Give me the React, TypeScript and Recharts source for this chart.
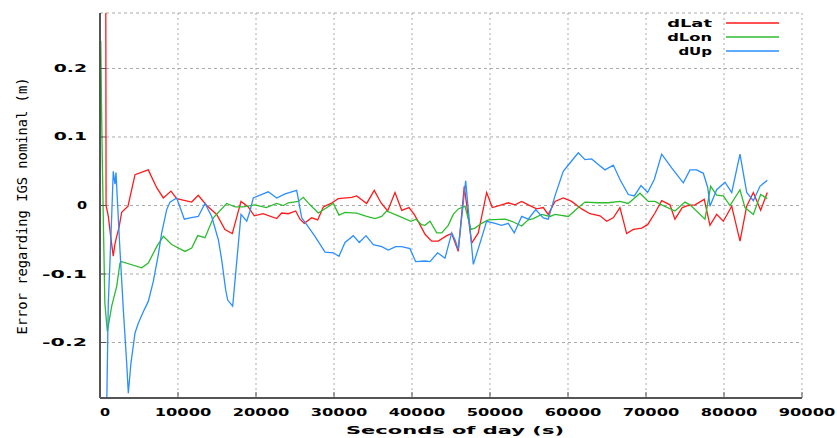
import { LineChart, Line, XAxis, YAxis, CartesianGrid, Legend } from "recharts";

// [seconds of day, error in m]
const dLat: [number, number][] = [
  [650, 1.0], [780, 0.0], [1070, -0.016], [1370, -0.045], [1700, -0.074], [1900, -0.057],
  [2140, -0.045], [2440, -0.032], [2780, -0.01], [3590, -0.001], [4490, 0.045], [6190, 0.052],
  [7270, 0.026], [8120, 0.011], [9100, 0.021], [9830, 0.01], [11750, 0.005], [12600, 0.015],
  [13680, 0.0], [14960, -0.013], [16020, -0.035], [16960, -0.041], [18080, 0.006], [19010, -0.002],
  [19780, -0.015], [20900, -0.012], [22650, -0.019], [23290, -0.011], [24140, -0.012], [25090, -0.008],
  [25640, -0.02], [26190, -0.026], [27140, -0.018], [27910, -0.021], [28630, -0.002], [29610, 0.003],
  [30550, 0.01], [32270, 0.012], [32910, 0.014], [34190, 0.003], [35160, 0.022], [36020, 0.004],
  [36880, -0.008], [37820, 0.019], [38680, -0.007], [39610, -0.003], [40290, -0.013], [41020, -0.028],
  [41670, -0.042], [42520, -0.052], [43370, -0.052], [44450, -0.044], [45090, -0.041], [45930, -0.067],
  [46700, 0.028], [47650, -0.055], [48500, -0.04], [49570, 0.019], [50290, -0.003], [51500, 0.001],
  [52340, 0.004], [53200, 0.001], [54060, 0.006], [54910, 0.001], [55980, -0.005], [56830, -0.003],
  [57470, -0.013], [58330, 0.006], [59390, 0.011], [60470, 0.006], [61750, -0.005], [62820, -0.012],
  [64100, -0.015], [64960, -0.023], [65810, -0.018], [66660, -0.003], [67520, -0.041], [68370, -0.035],
  [69450, -0.033], [70210, -0.028], [71150, -0.011], [72010, 0.007], [73070, 0.001], [73710, -0.02],
  [74650, -0.003], [75420, 0.0], [76280, 0.001], [77470, 0.009], [78200, -0.029], [79060, -0.013],
  [79910, -0.023], [80990, -0.001], [82050, -0.052], [82910, -0.001], [83760, 0.019], [84700, -0.007],
  [85550, 0.019],
];

const dLon: [number, number][] = [
  [100, 0.24], [200, 0.14], [300, 0.063], [450, -0.035], [620, -0.142], [940, -0.184],
  [1500, -0.147], [2140, -0.118], [2560, -0.084], [2780, -0.082], [5350, -0.091], [6190, -0.084],
  [7270, -0.06], [8120, -0.045], [9190, -0.057], [10900, -0.067], [11760, -0.062], [12530, -0.044],
  [13460, -0.047], [14530, -0.018], [16240, 0.003], [17310, -0.002], [18370, -0.002], [19870, 0.001],
  [21300, -0.003], [22650, 0.003], [23500, 0.0], [24140, 0.004], [25420, 0.006], [26060, 0.012],
  [26920, 0.001], [27990, -0.011], [29910, 0.003], [30640, -0.014], [31410, -0.01], [32910, -0.011],
  [34190, -0.016], [35260, -0.019], [36110, -0.016], [36750, -0.008], [38240, -0.015], [39870, -0.023],
  [40510, -0.02], [41240, -0.028], [41670, -0.029], [42310, -0.023], [43170, -0.04], [43810, -0.04],
  [44650, -0.029], [45290, -0.013], [45930, -0.005], [46790, -0.001], [47560, -0.035], [48080, -0.033],
  [48930, -0.026], [49780, -0.021], [51920, -0.02], [52780, -0.023], [54060, -0.03], [54910, -0.021],
  [55550, -0.019], [56630, -0.013], [57690, -0.016], [58330, -0.013], [60040, -0.016], [61320, -0.003],
  [62180, 0.005], [63880, 0.004], [65160, 0.004], [66660, 0.006], [67730, 0.003], [69230, 0.018],
  [70290, 0.006], [71150, 0.006], [72010, 0.001], [73710, -0.008], [74990, 0.005], [75640, 0.001],
  [77560, -0.02], [78290, 0.028], [79060, 0.015], [79910, 0.014], [80770, 0.0], [82050, 0.023],
  [82690, -0.003], [83760, -0.013], [84700, 0.016], [85550, 0.01],
];

const dUp: [number, number][] = [
  [720, -0.4], [1060, -0.143], [1280, -0.082], [1500, -0.015], [1700, 0.05], [1920, 0.031],
  [2050, 0.048], [2270, -0.001], [2560, -0.065], [2990, -0.152], [3420, -0.23], [3630, -0.274],
  [3970, -0.23], [4490, -0.186], [4910, -0.172], [5550, -0.155], [6190, -0.14], [6830, -0.111],
  [7470, -0.072], [7910, -0.04], [8550, -0.006], [8970, 0.005], [9830, 0.011], [10810, -0.02],
  [11540, -0.018], [12600, -0.016], [13460, 0.003], [14320, -0.016], [15170, -0.05], [15600, -0.079],
  [16110, -0.123], [16370, -0.138], [17010, -0.147], [17530, -0.082], [18080, -0.013], [18810, -0.023],
  [19230, -0.008], [19650, 0.011], [20290, 0.014], [21150, 0.018], [21580, 0.02], [22650, 0.011],
  [23720, 0.017], [24580, 0.02], [25220, 0.022], [25860, -0.018], [26500, -0.028], [27560, -0.045],
  [28850, -0.068], [29910, -0.069], [30640, -0.074], [31410, -0.054], [32470, -0.044], [33240, -0.054],
  [34100, -0.044], [35040, -0.057], [36110, -0.06], [36960, -0.065], [37910, -0.06], [38680, -0.06],
  [39740, -0.063], [40470, -0.082], [41670, -0.081], [42310, -0.082], [43290, -0.069], [44230, -0.077],
  [45090, -0.04], [45510, -0.05], [45930, -0.064], [46880, 0.036], [47860, -0.086], [48720, -0.055],
  [49570, -0.023], [50640, -0.026], [51500, -0.029], [52340, -0.026], [53110, -0.04], [54060, -0.016],
  [54910, -0.02], [55860, -0.006], [56830, -0.018], [57470, -0.02], [58330, 0.014], [59390, 0.05],
  [60250, 0.062], [61320, 0.077], [62180, 0.067], [63030, 0.068], [63880, 0.06], [64740, 0.052],
  [65810, 0.059], [66660, 0.038], [67730, 0.016], [68500, 0.014], [69360, 0.029], [70210, 0.019],
  [71060, 0.038], [72010, 0.075], [73290, 0.055], [74780, 0.033], [75640, 0.052], [76490, 0.052],
  [77350, 0.047], [77920, 0.026], [78200, -0.001], [79060, 0.023], [80130, 0.034], [80990, 0.019],
  [82050, 0.075], [82910, 0.019], [83760, 0.007], [84610, 0.028], [85550, 0.037],
];

const xTicks = [0, 10000, 20000, 30000, 40000, 50000, 60000, 70000, 80000, 90000];
const yTicks = [-0.2, -0.1, 0, 0.1, 0.2];
const xDomain: [number, number] = [0, 90000];
const yDomain: [number, number] = [-0.281, 0.281];

const toRows = (pts: [number, number][]) => pts.map(([t, v]) => ({ t, v }));

const FONT = "'DejaVu Sans', sans-serif";
const FRAME = "#555";

// gnuplot's bitmap font is very wide, so stretch the glyphs
const wideLen = (s: string) => s.length * 11.6 - 1.5;

function WideText({ x, y, anchor, text }: { x: number; y: number; anchor: string; text: string }) {
  return (
    <text
      x={x}
      y={y}
      textAnchor={anchor}
      dominantBaseline="central"
      fontFamily={FONT}
      fontWeight="bold"
      fontSize={11}
      fill="#000"
      textLength={wideLen(text)}
      lengthAdjust="spacingAndGlyphs"
    >
      {text}
    </text>
  );
}

const fmtY = (v: number) => (v === 0 ? "0" : v.toFixed(1));

const XTick = (p: any) => <WideText x={p.x + 5} y={p.y} anchor="middle" text={String(p.payload.value)} />;
const YTick = (p: any) => <WideText x={p.x} y={p.y} anchor="end" text={fmtY(p.payload.value)} />;

const XLabel = (p: any) => {
  const vb = p.viewBox;
  return (
    <text
      x={vb.x + vb.width / 2 + 4}
      y={430}
      textAnchor="middle"
      dominantBaseline="central"
      fontFamily={FONT}
      fontWeight="bold"
      fontSize={11}
      textLength={218}
      lengthAdjust="spacingAndGlyphs"
    >
      Seconds of day (s)
    </text>
  );
};

const YLabel = () => (
  <text
    x={0}
    y={0}
    transform="translate(27 206) rotate(-90)"
    textAnchor="middle"
    fontFamily="'DejaVu Sans Mono', monospace"
    fontSize={14}
    fill="#000"
    textLength={257}
    lengthAdjust="spacingAndGlyphs"
  >
    Error regarding IGS nominal (m)
  </text>
);

const LegendBox = (props: any) => {
  const items = props.payload || [];
  return (
    <svg width={837} height={60} style={{ display: "block" }}>
      {items.map((e: any, i: number) => {
        const y = 23 + i * 14;
        const label = String(e.value);
        return (
          <g key={label}>
            <text
              x={712}
              y={y}
              textAnchor="end"
              dominantBaseline="central"
              fontFamily={FONT}
              fontWeight="bold"
              fontSize={11}
              textLength={label.length * 11.2}
              lengthAdjust="spacingAndGlyphs"
            >
              {label}
            </text>
            <line x1={726} x2={779} y1={y} y2={y} stroke={e.color} strokeWidth={1.3} />
          </g>
        );
      })}
    </svg>
  );
};

export default function App() {
  return (
    <div style={{ position: "absolute", left: 0, top: 0, width: 837, height: 438, background: "#fff" }}>
      <LineChart width={837} height={438} margin={{ top: 13, right: 35, bottom: 0, left: 0 }}>
        <CartesianGrid vertical={false} stroke="#aaa" strokeDasharray="3 3" />
        <CartesianGrid horizontal={false} stroke="#aaa" strokeDasharray="2 3" />
        <XAxis
          dataKey="t"
          type="number"
          domain={xDomain}
          ticks={xTicks}
          allowDataOverflow
          height={40}
          tickSize={-6}
          tickMargin={20}
          tick={XTick}
          tickLine={{ stroke: FRAME }}
          axisLine={{ stroke: FRAME, strokeWidth: 2 }}
          label={{ content: XLabel }}
        />
        <XAxis
          xAxisId="top"
          orientation="top"
          dataKey="t"
          type="number"
          domain={xDomain}
          ticks={xTicks}
          allowDataOverflow
          height={0}
          tickSize={-6}
          tick={false}
          tickLine={{ stroke: FRAME }}
          axisLine={{ stroke: FRAME, strokeWidth: 2 }}
        />
        <YAxis
          type="number"
          domain={yDomain}
          ticks={yTicks}
          allowDataOverflow
          width={100}
          tickSize={-6}
          tickMargin={19}
          tick={YTick}
          tickLine={{ stroke: FRAME }}
          axisLine={{ stroke: FRAME, strokeWidth: 2 }}
          label={{ content: YLabel }}
        />
        <YAxis
          yAxisId="right"
          orientation="right"
          type="number"
          domain={yDomain}
          ticks={yTicks}
          allowDataOverflow
          width={0}
          tickSize={-6}
          tick={false}
          tickLine={{ stroke: FRAME }}
          axisLine={{ stroke: FRAME, strokeWidth: 2 }}
        />
        <Legend
          layout="vertical"
          align="center"
          verticalAlign="middle"
          content={LegendBox}
          wrapperStyle={{ position: "absolute", left: 0, top: 0, width: 837, height: 60 }}
        />
        <Line data={toRows(dLat)} dataKey="v" name="dLat" type="linear" stroke="#ff1a1a" strokeWidth={1.3} dot={false} isAnimationActive={false} />
        <Line data={toRows(dLon)} dataKey="v" name="dLon" type="linear" stroke="#2ebb2e" strokeWidth={1.3} dot={false} isAnimationActive={false} />
        <Line data={toRows(dUp)} dataKey="v" name="dUp" type="linear" stroke="#2b8fff" strokeWidth={1.3} dot={false} isAnimationActive={false} />
      </LineChart>
    </div>
  );
}
